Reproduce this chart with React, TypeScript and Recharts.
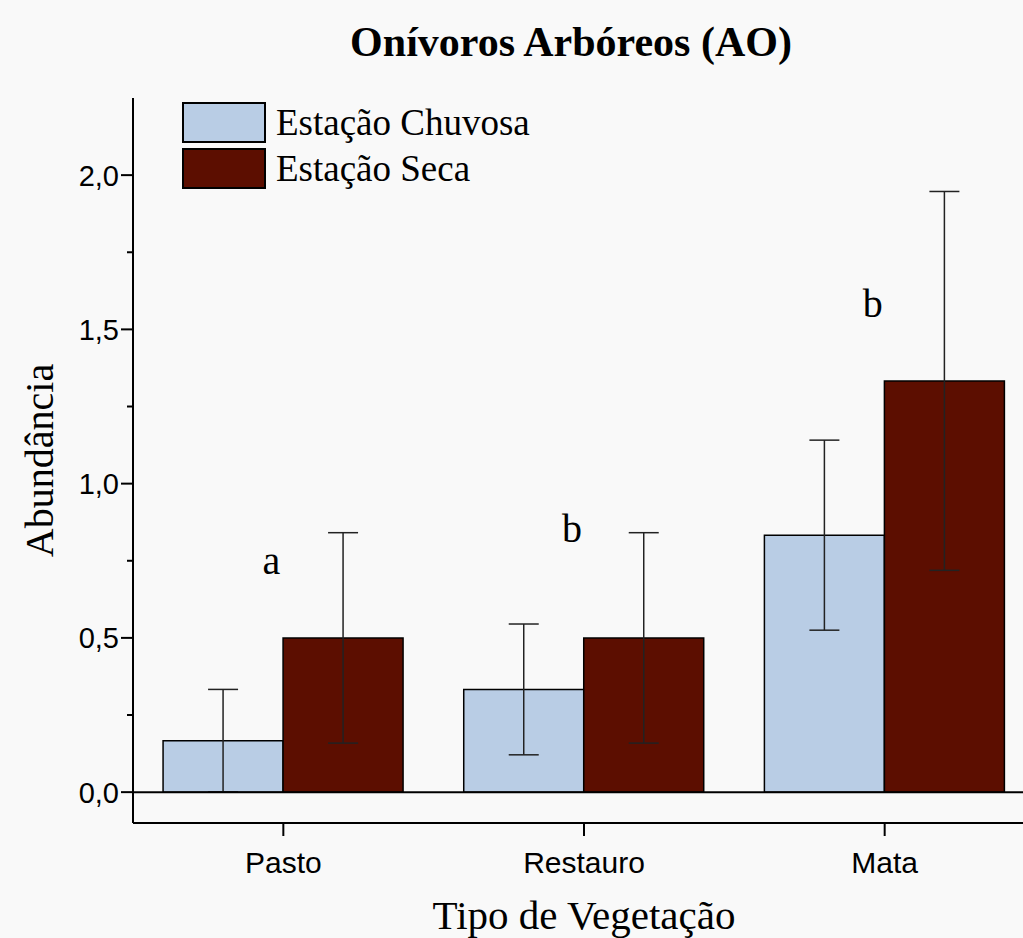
import React from 'react';
import { BarChart, Bar, XAxis, YAxis, ErrorBar, ReferenceLine, ReferenceDot, Legend } from 'recharts';

const categories = ['Pasto', 'Restauro', 'Mata'];
const chuvosa = [0.167, 0.333, 0.833];
const chuvosaErr = [0.166, 0.212, 0.308];
const seca = [0.5, 0.5, 1.333];
const secaErr = [0.341, 0.341, 0.614];
const letters = ['a', 'b', 'b'];
const letterY = [0.746, 0.85, 1.578];
const yTicks = [0, 0.25, 0.5, 0.75, 1, 1.25, 1.5, 1.75, 2];
const minorXTicks = [1, 2];

const data = categories.map((c, i) => ({
  name: c,
  chuvosa: chuvosa[i],
  chuvosaErr: chuvosaErr[i],
  seca: seca[i],
  secaErr: secaErr[i],
}));

const SERIF = '"Liberation Serif", "Times New Roman", serif';
const SANS = '"Liberation Sans", Arial, sans-serif';
const BLUE = '#B9CDE5';
const RED = '#5C0E00';

const YTick = (props: any) => {
  const { x, y, payload } = props;
  const v = payload.value;
  const major = Math.abs(v * 2 - Math.round(v * 2)) < 1e-6;
  return (
    <g>
      <line x1={x - (major ? 12 : 6)} y1={y} x2={x} y2={y} stroke="#000" strokeWidth={2} />
      {major && (
        <text x={x - 14} y={y} dy="0.36em" textAnchor="end" fontFamily={SANS} fontSize={29} fill="#000">
          {v.toFixed(1).replace('.', ',')}
        </text>
      )}
    </g>
  );
};

const XTick = (props: any) => {
  const { x, y, payload } = props;
  return (
    <g>
      <line x1={x} y1={y} x2={x} y2={y + 13} stroke="#000" strokeWidth={2} />
      <text x={x} y={y + 50} textAnchor="middle" fontFamily={SANS} fontSize={30} fill="#000">
        {payload.value}
      </text>
    </g>
  );
};

const MinorXTick = (props: any) => {
  const { x, y } = props;
  return <line x1={x} y1={y} x2={x} y2={y + 7} stroke="#000" strokeWidth={2} />;
};

const XLabel = (props: any) => {
  const vb = props.viewBox || {};
  return (
    <text x={vb.x + vb.width / 2} y={vb.y + 106} textAnchor="middle" fontFamily={SERIF} fontSize={41} fill="#000">
      Tipo de Vegetação
    </text>
  );
};

const YLabel = (props: any) => {
  const vb = props.viewBox || {};
  const cx = vb.x - 20;
  const cy = vb.y + vb.height / 2;
  return (
    <text x={cx} y={cy} transform={`rotate(-90, ${cx}, ${cy})`} textAnchor="middle" fontFamily={SERIF} fontSize={40} fill="#000">
      Abundância
    </text>
  );
};

const LegendContent = (props: any) => (
  <div style={{ display: 'flex', flexDirection: 'column', gap: 5 }}>
    {(props.payload || []).map((e: any) => (
      <div key={e.value} style={{ display: 'flex', alignItems: 'center', height: 41 }}>
        <div style={{ width: 80, height: 37, background: e.color, border: '2px solid #000' }} />
        <span style={{ marginLeft: 10, fontFamily: SERIF, fontSize: 37, lineHeight: '41px', color: '#000', whiteSpace: 'nowrap' }}>
          {e.value}
        </span>
      </div>
    ))}
  </div>
);

export default function App() {
  return (
    <div style={{ position: 'absolute', left: 0, top: 0, width: 1023, height: 938, overflow: 'hidden', background: '#F9F9F9' }}>
      <BarChart
        width={1060}
        height={938}
        data={data}
        margin={{ top: 98, right: 25, left: 73, bottom: 55 }}
        barCategoryGap="10%"
        barGap={0}
      >
        <XAxis
          xAxisId="minor"
          type="number"
          domain={[0, 3]}
          allowDataOverflow
          ticks={minorXTicks}
          tick={<MinorXTick />}
          tickLine={false}
          tickSize={0}
          axisLine={false}
          height={0}
        />
        <XAxis
          dataKey="name"
          tick={<XTick />}
          tickLine={false}
          tickSize={0}
          tickMargin={0}
          axisLine={{ stroke: '#000', strokeWidth: 2 }}
          height={60}
          interval={0}
          label={<XLabel />}
        />
        <YAxis
          domain={[-0.1, 2.25]}
          ticks={yTicks}
          allowDataOverflow
          tick={<YTick />}
          tickLine={false}
          tickSize={0}
          tickMargin={0}
          axisLine={{ stroke: '#000', strokeWidth: 2 }}
          width={60}
          interval={0}
          label={<YLabel />}
        />
        <Legend
          layout="vertical"
          align="center"
          verticalAlign="middle"
          wrapperStyle={{ position: 'absolute', left: 182, top: 102, width: 'auto', height: 'auto' }}
          content={LegendContent}
        />
        <Bar dataKey="chuvosa" name="Estação Chuvosa" fill={BLUE} stroke="#000" strokeWidth={1.5} isAnimationActive={false}>
          <ErrorBar dataKey="chuvosaErr" width={15} stroke="#222" strokeWidth={1.5} isAnimationActive={false} />
        </Bar>
        <Bar dataKey="seca" name="Estação Seca" fill={RED} stroke="#000" strokeWidth={1.5} isAnimationActive={false}>
          <ErrorBar dataKey="secaErr" width={15} stroke="#222" strokeWidth={1.5} isAnimationActive={false} />
        </Bar>
        <ReferenceLine y={0} stroke="#000" strokeWidth={2} />
        {categories.map((c, i) => (
          <ReferenceDot
            key={c}
            x={c}
            y={letterY[i]}
            r={1}
            shape={(p: any) => (
              <text x={p.cx - 12} y={p.cy} dy="0.3em" textAnchor="middle" fontFamily={SERIF} fontSize={40} fill="#000">
                {letters[i]}
              </text>
            )}
          />
        ))}
      </BarChart>
      <div
        style={{
          position: 'absolute',
          left: 0,
          top: 21,
          width: 1142,
          textAlign: 'center',
          fontFamily: SERIF,
          fontWeight: 'bold',
          fontSize: 42,
          lineHeight: '42px',
          color: '#000',
          whiteSpace: 'nowrap',
        }}
      >
        Onívoros Arbóreos (AO)
      </div>
    </div>
  );
}
